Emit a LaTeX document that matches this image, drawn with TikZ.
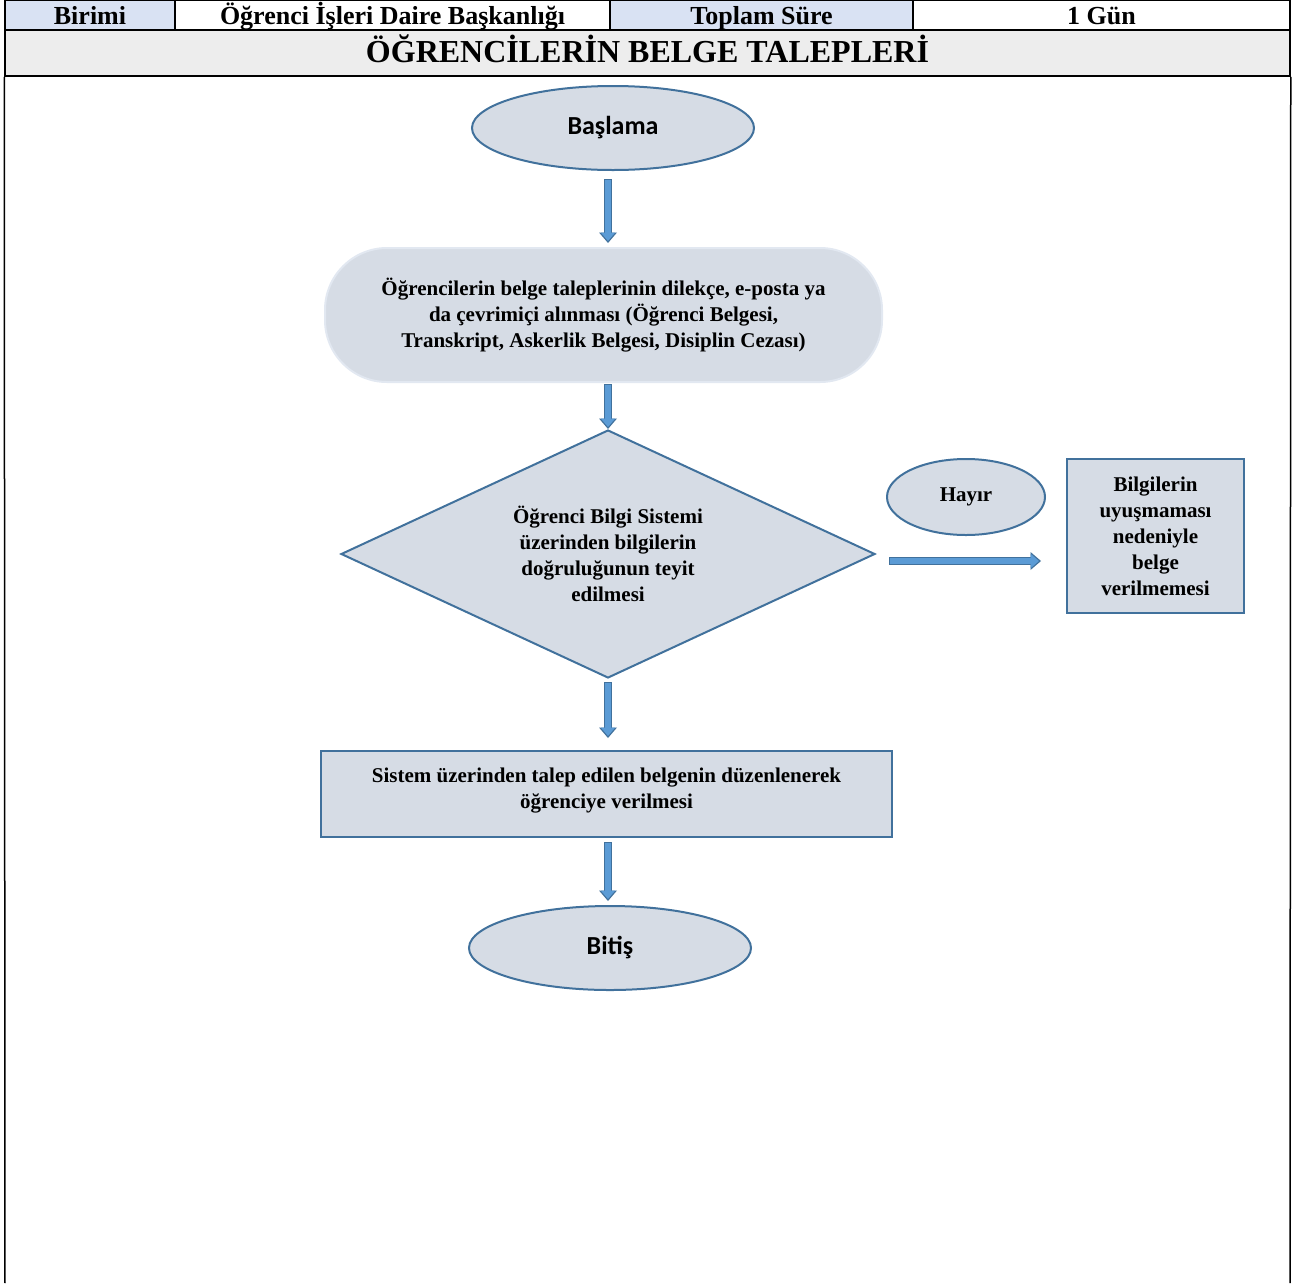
\documentclass[tikz,border=0pt]{standalone}
\usepackage{fontspec}
\setmainfont{Liberation Serif}
\newfontfamily\calibrifont{Carlito}
\usetikzlibrary{shapes.geometric,arrows.meta}
\definecolor{shapefill}{RGB}{214,220,229}
\definecolor{shapeborder}{RGB}{65,113,156}
\definecolor{arrowfill}{RGB}{91,155,213}
\definecolor{arrowborder}{RGB}{65,113,156}
\definecolor{hdrblue}{RGB}{217,226,243}
\definecolor{titlegray}{RGB}{237,237,237}
\definecolor{paleborder}{RGB}{226,232,241}
\tikzset{
  frameline/.style={draw=black, line width=1.5pt},
  hcell/.style={frameline, inner sep=0pt, font=\bfseries\fontsize{26}{30}\selectfont, minimum height=30pt, text height=21pt, text depth=3pt},
  tcell/.style={frameline, fill=titlegray, inner sep=0pt, font=\bfseries\fontsize{32}{36}\selectfont, minimum height=46pt, minimum width=1285pt, text height=24pt, text depth=6pt},
  term/.style={ellipse, draw=shapeborder, line width=2pt, fill=shapefill, inner sep=0pt, minimum width=282pt, minimum height=84pt, font=\calibrifont\bfseries\fontsize{26}{30}\selectfont},
  bodytext/.style={font=\bfseries\fontsize{21}{26}\selectfont, align=center},
  stadium/.style={bodytext, rectangle, rounded corners=62pt, draw=paleborder, line width=2pt, fill=shapefill, minimum width=557pt, minimum height=134pt, inner sep=0pt},
  decision/.style={bodytext, diamond, aspect=2.15, draw=shapeborder, line width=2pt, fill=shapefill, minimum width=534pt, minimum height=248pt, inner sep=0pt},
  procbox/.style={bodytext, rectangle, draw=shapeborder, line width=2pt, fill=shapefill, inner sep=0pt},
  answer/.style={bodytext, ellipse, draw=shapeborder, line width=2pt, fill=shapefill, minimum width=158pt, minimum height=76pt, inner sep=0pt},
  blockarrow/.style 2 args={draw=arrowborder, line width=8.5pt, shorten <=#1, shorten >=#2,
    -{Triangle[length=10.5pt,width=18pt,line width=0pt]},
    postaction={draw=arrowfill, line width=6pt, shorten <=#1+1.2pt, shorten >=#2+2pt,
      -{Triangle[length=8.5pt,width=14.5pt,line width=0pt]}}}
}
\begin{document}
\begin{tikzpicture}[x=1pt,y=-1pt]
\useasboundingbox (0,0) rectangle (1306,1283);
% header
\node[hcell, fill=hdrblue, minimum width=170pt] (h1) at (90,15) {Birimi};
\node[hcell, fill=white, minimum width=435pt] (h2) at (392.5,15) {Öğrenci İşleri Daire Başkanlığı};
\node[hcell, fill=hdrblue, minimum width=303pt] (h3) at (761.5,15) {Toplam Süre};
\node[hcell, fill=white, minimum width=377pt] (h4) at (1101.5,15) {1 Gün};
\node[tcell] (title) at (647.5,53) {ÖĞRENCİLERİN BELGE TALEPLERİ};
\draw[frameline] (title.south west) -- (5,1283);
\draw[frameline] (title.south east) -- (1290,1283);
% flow
\node[term] (start) at (613,128) {Başlama};
\node[stadium] (req) at (603.5,315) {Öğrencilerin belge taleplerinin dilekçe, e-posta ya\\da çevrimiçi alınması (Öğrenci Belgesi,\\Transkript, Askerlik Belgesi, Disiplin Cezası)};
\node[decision] (dec) at (608,554) {Öğrenci Bilgi Sistemi\\üzerinden bilgilerin\\doğruluğunun teyit\\edilmesi};
\node[answer] (no) at (966,497) {Hayır};
\node[procbox, minimum width=177pt, minimum height=154pt] (rej) at (1155.5,536) {Bilgilerin\\uyuşmaması\\nedeniyle\\belge\\verilmemesi};
\node[procbox, minimum width=571pt, minimum height=86pt] (proc) at (606.5,794) {Sistem üzerinden talep edilen belgenin düzenlenerek\\öğrenciye verilmesi\\[-14pt]};
\node[term] (end) at (610,948) {Bitiş};
% arrows
\draw[blockarrow={8pt}{4pt}] (dec.north |- start.south) -- (dec.north |- req.north);
\draw[blockarrow={1pt}{0pt}] (dec.north |- req.south) -- (dec.north);
\draw[blockarrow={3pt}{12pt}] (dec.south) -- (dec.south |- proc.north);
\draw[blockarrow={4pt}{4pt}] (dec.south |- proc.south) -- (dec.south |- end.north);
\draw[blockarrow={13pt}{25pt}] ([yshift=-7pt]dec.east) -- ([yshift=-7pt]dec.east -| rej.west);
\end{tikzpicture}
\end{document}
